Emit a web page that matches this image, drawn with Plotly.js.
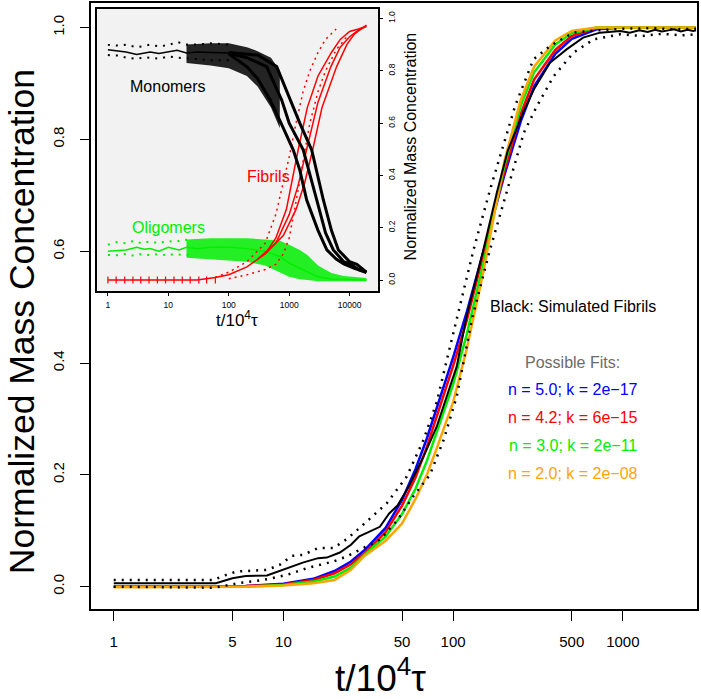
<!DOCTYPE html>
<html>
<head>
<meta charset="utf-8">
<script src="https://cdn.plot.ly/plotly-3.0.1.min.js"></script>
<style>
  html, body { margin: 0; padding: 0; background: #fff; }
  #chart { width: 701px; height: 699px; }
</style>
</head>
<body>
<div id="chart"></div>
<script>
// ---- main plot: simulated fibrils (t in units of 10^4 tau) ----
const sim_t = [1, 2, 4, 5, 6, 8, 9.5, 11.4, 13, 16, 18, 21.5, 25, 28, 32.6, 37, 42, 47, 55, 67, 80, 105, 120, 150, 181, 210, 260, 300, 372, 466, 583, 733, 966, 1100, 1250, 1400, 1550, 1700, 1850, 2000, 2200, 2400, 2600, 2700]
const sim_y = [0.006, 0.006, 0.006, 0.015, 0.019, 0.02, 0.028, 0.036, 0.043, 0.051, 0.052, 0.061, 0.075, 0.09, 0.1, 0.107, 0.131, 0.145, 0.18, 0.233, 0.286, 0.394, 0.483, 0.6, 0.705, 0.78, 0.85, 0.89, 0.937, 0.961, 0.982, 0.991, 0.994, 0.991, 0.995, 0.992, 0.996, 0.993, 0.995, 0.997, 0.993, 0.996, 0.994, 0.995]

const hi_t = [1, 2, 3.9, 4.3, 5.3, 8, 9.5, 11.2, 13.1, 16, 19.7, 23.6, 28.1, 40.6, 53.3, 67, 80, 96, 106, 132, 165, 208, 232, 297, 372, 511, 700, 1000, 1500, 2000, 2700]
const hi_y = [0.012, 0.012, 0.012, 0.018, 0.027, 0.03, 0.039, 0.055, 0.057, 0.069, 0.069, 0.085, 0.105, 0.149, 0.197, 0.263, 0.33, 0.43, 0.483, 0.603, 0.71, 0.812, 0.86, 0.943, 0.967, 0.991, 0.995, 0.998, 0.999, 0.997, 0.998]

const lo_t = [1, 3.9, 5.4, 6.1, 7.6, 8.5, 10.5, 13.7, 16.4, 19.7, 23.6, 27, 37, 47, 58, 73, 88, 105, 120, 130, 165, 208, 261, 311, 391, 511, 673, 966, 1300, 1700, 2200, 2700]
const lo_y = [0.0, -0.002, 0.006, 0.008, 0.012, 0.015, 0.021, 0.033, 0.039, 0.045, 0.054, 0.063, 0.084, 0.119, 0.161, 0.2, 0.263, 0.34, 0.43, 0.483, 0.603, 0.71, 0.812, 0.859, 0.913, 0.955, 0.979, 0.988, 0.985, 0.989, 0.986, 0.988]

// possible fits
const fit_t   = [1, 3, 6, 10, 15, 20, 25, 30, 40, 50, 60, 70, 80, 100, 120, 150, 200, 250, 300, 400, 500, 700, 1000, 2700]
const fit_n5  = [0, 0, 0.001, 0.005, 0.014, 0.028, 0.045, 0.065, 0.105, 0.155, 0.21, 0.265, 0.32, 0.41, 0.49, 0.595, 0.735, 0.832, 0.895, 0.953, 0.98, 0.997, 1, 1]
const fit_n42 = [0, 0, 0.001, 0.004, 0.012, 0.024, 0.04, 0.06, 0.098, 0.145, 0.195, 0.25, 0.303, 0.395, 0.475, 0.59, 0.742, 0.845, 0.907, 0.96, 0.985, 0.999, 1, 1]
const fit_n3  = [0, 0, 0, 0.003, 0.009, 0.018, 0.034, 0.057, 0.09, 0.13, 0.175, 0.225, 0.275, 0.362, 0.45, 0.575, 0.752, 0.86, 0.92, 0.97, 0.99, 1, 1, 1]
const fit_n2  = [-0.001, -0.001, 0, 0.002, 0.006, 0.012, 0.03, 0.055, 0.082, 0.113, 0.157, 0.2, 0.247, 0.33, 0.424, 0.56, 0.76, 0.87, 0.93, 0.977, 0.994, 1, 1, 1]

const fit_labels = ['n = 5.0; k = 2e\u221217', 'n = 4.2; k = 6e\u221215', 'n = 3.0; k = 2e\u221211', 'n = 2.0; k = 2e\u221208']
const fit_colors = ['#0000ff', '#ff0000', '#00ee00', '#ffa500']

// ---- inset: monomers / oligomers / fibrils ----
const mono_t  = [1, 1.5, 2, 3, 4, 5, 7, 10, 14, 20, 30, 50, 100]
const mono_y  = [0.88, 0.875, 0.872, 0.862, 0.868, 0.872, 0.866, 0.872, 0.878, 0.868, 0.872, 0.87, 0.868]
const mono_hi = [0.899, 0.896, 0.9, 0.89, 0.895, 0.9, 0.893, 0.898, 0.91, 0.9, 0.9, 0.905, 0.9]
const mono_lo = [0.86, 0.858, 0.85, 0.845, 0.852, 0.85, 0.846, 0.855, 0.85, 0.848, 0.845, 0.84, 0.84]

const mA_t = [100, 200, 300, 480, 700, 1170, 1500, 1950, 3000, 4200, 6000, 8000, 12000, 19000]
const mA_y = [0.865, 0.815, 0.77, 0.69, 0.61, 0.497, 0.42, 0.306, 0.19, 0.115, 0.08, 0.062, 0.045, 0.03]
const mB_t = [100, 200, 424, 752, 1000, 1714, 2858, 4000, 5380, 8000, 10190, 14000, 19000]
const mB_y = [0.868, 0.85, 0.816, 0.688, 0.6, 0.497, 0.306, 0.18, 0.115, 0.07, 0.062, 0.04, 0.028]
const mC_t = [100, 300, 621, 1031, 1500, 2360, 3680, 5000, 6520, 10000, 13180, 19000]
const mC_y = [0.87, 0.86, 0.816, 0.688, 0.6, 0.497, 0.306, 0.19, 0.115, 0.07, 0.06, 0.03]

const mono_band_t  = [20, 50, 100, 200, 300, 500, 700]
const mono_band_hi = [0.9, 0.905, 0.905, 0.89, 0.875, 0.85, 0.8]
const mono_band_lo = [0.83, 0.82, 0.81, 0.78, 0.74, 0.66, 0.58]

const olig_t  = [1, 2, 3, 4, 5, 7, 10, 15, 20, 30, 50, 100, 200, 400, 700, 1000, 1500, 2000, 3000, 5000, 10000, 19000]
const olig_y  = [0.11, 0.115, 0.125, 0.118, 0.12, 0.11, 0.125, 0.115, 0.125, 0.12, 0.125, 0.125, 0.12, 0.11, 0.09, 0.065, 0.045, 0.03, 0.012, 0.004, 0.001, 0]
const olig_dot_t  = [1, 1.4, 2, 2.7, 3.6, 5, 7, 9.5, 13, 18, 25]
const olig_dot_hi = [0.135, 0.145, 0.14, 0.15, 0.14, 0.148, 0.14, 0.15, 0.145, 0.155, 0.15]
const olig_dot_lo = [0.096, 0.095, 0.1, 0.092, 0.1, 0.095, 0.1, 0.094, 0.1, 0.095, 0.098]
const olig_band_t  = [20, 50, 100, 200, 400, 700, 1000, 1500, 2000, 3000, 5000, 8000, 19000]
const olig_band_hi = [0.155, 0.16, 0.16, 0.16, 0.155, 0.15, 0.135, 0.115, 0.096, 0.055, 0.027, 0.015, 0.008]
const olig_band_lo = [0.085, 0.08, 0.075, 0.07, 0.055, 0.03, 0.012, 0.003, 0, -0.005, -0.005, -0.005, -0.005]

const fib_tick_t = [1, 1.37, 1.9, 2.6, 3.5, 4.8, 6.6, 9, 12.4, 17, 23, 32, 43, 60]
const fA_t = [1, 30, 60, 100, 200, 400, 600, 900, 1415, 2000, 3000, 3680, 5000, 7000, 10000, 14000, 19000]
const fA_y = [0, 0, 0.01, 0.02, 0.05, 0.1, 0.16, 0.27, 0.5, 0.66, 0.78, 0.816, 0.87, 0.92, 0.95, 0.96, 0.97]
const fB_t = [300, 600, 1000, 1400, 1950, 3000, 4900, 7000, 10000, 14000, 19000]
const fB_y = [0.08, 0.14, 0.25, 0.36, 0.5, 0.68, 0.816, 0.89, 0.93, 0.955, 0.97]
const fC_t = [400, 800, 1300, 1800, 2460, 3500, 6100, 9000, 12000, 16000, 19000]
const fC_y = [0.1, 0.17, 0.27, 0.37, 0.5, 0.66, 0.816, 0.9, 0.94, 0.96, 0.975]
const fHi_t = [60, 100, 200, 400, 600, 800, 1000, 1300, 1700, 2200, 3000, 4000, 6000]
const fHi_y = [0.01, 0.03, 0.07, 0.14, 0.25, 0.37, 0.47, 0.6, 0.72, 0.8, 0.87, 0.92, 0.96]
const fLo_t = [100, 200, 400, 600, 800, 1000, 1300, 1700, 2200, 3000, 4000, 6000, 9000]
const fLo_y = [0.005, 0.02, 0.04, 0.06, 0.1, 0.16, 0.3, 0.45, 0.6, 0.72, 0.8, 0.88, 0.93]

const font_family = 'Liberation Sans, Arial, Helvetica, sans-serif'
const dots = '2px,6px'

const line = (x, y, color, width, extra) => Object.assign({
  x: x, y: y, type: 'scatter', mode: 'lines', hoverinfo: 'skip',
  line: { color: color, width: width }
}, extra || {})

const band = (t, hi, lo, color, axes) => Object.assign({
  x: t.concat(t.slice().reverse()),
  y: hi.concat(lo.slice().reverse()),
  type: 'scatter', mode: 'lines', fill: 'toself',
  fillcolor: color, line: { width: 0 }, hoverinfo: 'skip'
}, axes)

const inset = { xaxis: 'x2', yaxis: 'y2' }

let data = [
  // main
  line(fit_t, fit_n5,  fit_colors[0], 2.5),
  line(fit_t, fit_n42, fit_colors[1], 2.5),
  line(fit_t, fit_n3,  fit_colors[2], 2.5),
  line(fit_t, fit_n2,  fit_colors[3], 2.5),
  line(sim_t, sim_y, '#000', 2),
  line(hi_t, hi_y, '#000', 2.5, { line: { color: '#000', width: 2.5, dash: dots } }),
  line(lo_t, lo_y, '#000', 2.5, { line: { color: '#000', width: 2.5, dash: dots } }),

  // inset: oligomers
  band(olig_band_t, olig_band_hi, olig_band_lo, 'rgba(0,238,0,0.85)', inset),
  line(olig_dot_t, olig_dot_hi, '#00ee00', 2, Object.assign({ line: { color: '#00ee00', width: 2, dash: dots } }, inset)),
  line(olig_dot_t, olig_dot_lo, '#00ee00', 2, Object.assign({ line: { color: '#00ee00', width: 2, dash: dots } }, inset)),
  line(olig_t, olig_y, '#00ee00', 1.5, inset),

  // inset: fibrils
  line(fHi_t, fHi_y, '#ff0000', 1.5, Object.assign({ line: { color: '#ff0000', width: 1.5, dash: '2px,4px' } }, inset)),
  line(fLo_t, fLo_y, '#ff0000', 1.5, Object.assign({ line: { color: '#ff0000', width: 1.5, dash: '2px,4px' } }, inset)),
  line(fA_t, fA_y, '#ff0000', 1.5, inset),
  line(fB_t, fB_y, '#ff0000', 1.5, inset),
  line(fC_t, fC_y, '#ff0000', 1.5, inset),
  Object.assign({
    x: fib_tick_t, y: fib_tick_t.map(() => 0), type: 'scatter', mode: 'markers', hoverinfo: 'skip',
    marker: { symbol: 'line-ns', size: 5, line: { color: '#ff0000', width: 1.2 } }
  }, inset),

  // inset: monomers
  band(mono_band_t, mono_band_hi, mono_band_lo, 'rgba(0,0,0,0.85)', inset),
  line(mono_t, mono_hi, '#000', 2, Object.assign({ line: { color: '#000', width: 2, dash: dots } }, inset)),
  line(mono_t, mono_lo, '#000', 2, Object.assign({ line: { color: '#000', width: 2, dash: dots } }, inset)),
  line(mono_t, mono_y, '#000', 1.5, inset),
  line(mA_t, mA_y, '#000', 3, inset),
  line(mB_t, mB_y, '#000', 3, inset),
  line(mC_t, mC_y, '#000', 3, inset),
]

const ann = (x, y, text, color, size, extra) => Object.assign({
  x: x, y: y, text: text, showarrow: false,
  font: { family: font_family, size: size, color: color },
  xanchor: 'center', yanchor: 'middle'
}, extra || {})

const fit_ann_y = [0.353, 0.303, 0.252, 0.203]

let annotations = [
  ann(2.705, 0.501, 'Black: Simulated Fibrils', '#000', 16),
  ann(2.705, 0.401, 'Possible Fits:', '#6b6b6b', 16),
  ...fit_labels.map((txt, i) => ann(2.705, fit_ann_y[i], txt, fit_colors[i], 16)),
  // inset labels
  ann(0.998, 0.738, 'Monomers', '#000', 16, { xref: 'x2', yref: 'y2' }),
  ann(2.653, 0.394, 'Fibrils', '#ff0000', 16, { xref: 'x2', yref: 'y2' }),
  ann(1.01, 0.199, 'Oligomers', '#00ee00', 16, { xref: 'x2', yref: 'y2' }),
  // axis titles
  ann(-0.1139, 0.475, 'Normalized Mass Concentration', '#000', 35.5, { xref: 'paper', yref: 'paper', textangle: -90 }),
  ann(0.4785, -0.11, 't/10<sup>4</sup>τ', '#000', 37, { xref: 'paper', yref: 'paper' }),
  ann(0.241, 0.478, 't/10<sup>4</sup>τ', '#000', 17, { xref: 'paper', yref: 'paper' }),
  ann(0.527, 0.764, 'Normalized Mass Concentration', '#000', 16, { xref: 'paper', yref: 'paper', textangle: -90 }),
]

const layout = {
  width: 701,
  height: 699,
  margin: { l: 91, r: 4, t: 3, b: 90 },
  paper_bgcolor: '#fff',
  plot_bgcolor: 'rgba(0,0,0,0)',
  showlegend: false,
  font: { family: font_family, color: '#000' },
  xaxis: {
    type: 'log', range: [-0.134, 3.437],
    tickvals: [1, 5, 10, 50, 100, 500, 1000],
    ticktext: ['1', '5', '10', '50', '100', '500', '1000'],
    ticks: 'outside', ticklen: 10, tickwidth: 1, tickcolor: '#000',
    tickfont: { size: 15 }, ticklabelstandoff: 8,
    showline: true, mirror: true, linewidth: 2, linecolor: '#000',
    showgrid: false, zeroline: false
  },
  yaxis: {
    range: [-0.04, 1.044],
    tickvals: [0, 0.2, 0.4, 0.6, 0.8, 1.0],
    ticktext: ['0.0', '0.2', '0.4', '0.6', '0.8', '1.0'],
    tickangle: -90,
    ticks: 'outside', ticklen: 9, tickwidth: 1, tickcolor: '#000',
    tickfont: { size: 15 }, ticklabelstandoff: 10,
    showline: true, mirror: true, linewidth: 2, linecolor: '#000',
    showgrid: false, zeroline: false
  },
  xaxis2: {
    domain: [0.0104, 0.4736], anchor: 'y2',
    type: 'log', range: [-0.175, 4.47],
    tickvals: [1, 10, 100, 1000, 10000],
    ticktext: ['1', '10', '100', '1000', '10000'],
    ticks: 'outside', ticklen: 3, tickwidth: 1, tickcolor: '#000',
    tickfont: { size: 8.5 }, ticklabelstandoff: 2,
    showline: true, mirror: true, linewidth: 2, linecolor: '#000',
    showgrid: false, zeroline: false
  },
  yaxis2: {
    domain: [0.5252, 0.9896], anchor: 'x2', side: 'right',
    range: [-0.041, 1.035],
    tickvals: [0, 0.2, 0.4, 0.6, 0.8, 1.0],
    ticktext: ['0.0', '0.2', '0.4', '0.6', '0.8', '1.0'],
    tickangle: -90,
    ticks: 'outside', ticklen: 3, tickwidth: 1, tickcolor: '#000',
    tickfont: { size: 8.5 }, ticklabelstandoff: 2,
    showline: true, mirror: true, linewidth: 2, linecolor: '#000',
    showgrid: false, zeroline: false
  },
  shapes: [{
    type: 'rect', xref: 'x2 domain', yref: 'y2 domain',
    x0: 0, x1: 1, y0: 0, y1: 1,
    fillcolor: '#f2f2f2', line: { width: 0 }, layer: 'below'
  }],
  annotations: annotations
}

Plotly.newPlot('chart', data, layout, { staticPlot: true })
</script>
</body>
</html>
